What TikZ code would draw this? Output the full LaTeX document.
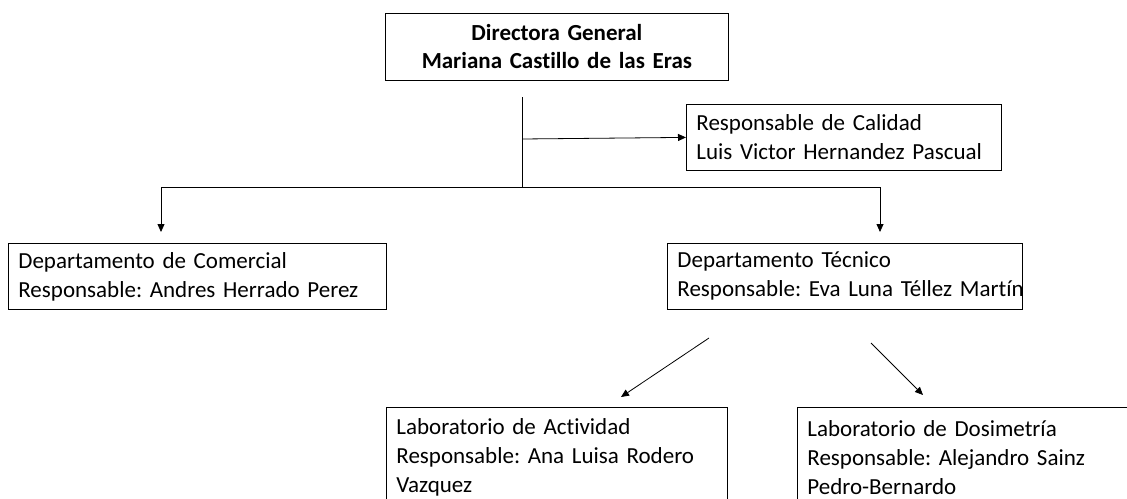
\documentclass[tikz,border=0pt]{standalone}
\usepackage{fontspec}
\setmainfont{Carlito}[Ligatures=NoCommon]
\usetikzlibrary{arrows.meta}
\frenchspacing

\tikzset{
	cargo/.style={draw, line width=0.8pt, anchor=north west, align=left, inner xsep=10pt, inner ysep=3pt, font=\fontsize{23}{29}\selectfont},
	flecha/.style={line width=0.8pt, -{Triangle[length=8pt,width=7pt]}}
}

\begin{document}
\begin{tikzpicture}[x=1pt,y=-1pt]
	%\draw[help lines] (0,0) grid[step=50] (1127,498);
	\useasboundingbox (0,0) rectangle (1127,498);
	\clip (0,0) rectangle (1127,498);
	\node[cargo, text width=323pt, minimum height=67pt, align=center, font=\fontsize{23}{28}\selectfont\bfseries] (dir) at (385,13) {Directora General\\Mariana Castillo de las Eras};
	\node[cargo, text width=295pt, minimum height=66pt] (cal) at (686,104) {Responsable de Calidad\\Luis Victor Hernandez Pascual};
	\node[cargo, text width=358pt, minimum height=66pt] (com) at (8,243) {Departamento de Comercial\\Responsable: Andres Herrado Perez};
	\node[cargo, text width=335pt, minimum height=66pt] (tec) at (667,243) {Departamento Técnico\\\mbox{Responsable: Eva Luna Téllez Martín}};
	\node[cargo, text width=321pt, minimum height=100pt] (act) at (386,407) {Laboratorio de Actividad\\Responsable: Ana Luisa Rodero\\Vazquez};
	\node[cargo, text width=400pt, minimum height=100pt] (dos) at (797,407) {Laboratorio de Dosimetría\\Responsable: Alejandro Sainz\\Pedro-Bernardo};
	% conectores
	\coordinate (troncoA) at (522,97);
	\coordinate (troncoB) at (522,139);
	\coordinate (troncoC) at (522,187);
	\coordinate (comIn) at (161,232);
	\coordinate (tecIn) at (880,232);
	\coordinate (tecA) at (709,338);
	\coordinate (tecB) at (871,343);
	\coordinate (actIn) at (621,397);
	\coordinate (dosIn) at (923,395);
	\draw[line width=0.8pt] (troncoA) -- (troncoC);
	\draw[flecha] (troncoB) -- (cal.west);
	\draw[flecha] (troncoC) -| (comIn);
	\draw[flecha] (troncoC) -| (tecIn);
	\draw[flecha] (tecA) -- (actIn);
	\draw[flecha] (tecB) -- (dosIn);
\end{tikzpicture}
\end{document}
